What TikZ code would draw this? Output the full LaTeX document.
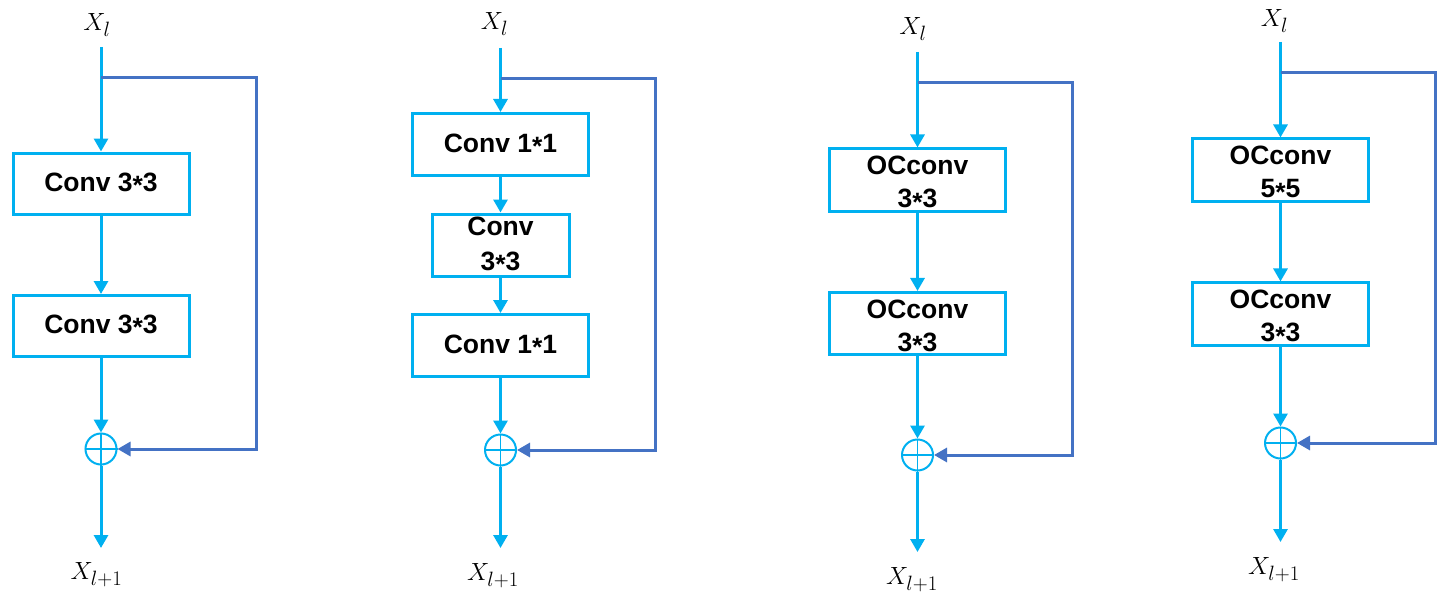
\documentclass[tikz,border=0pt]{standalone}
\usepackage{fontspec}
\setmainfont{Liberation Sans}
\usetikzlibrary{arrows.meta}
\definecolor{lb}{HTML}{00B0F0}
\definecolor{sk}{HTML}{4472C4}
\newcommand{\mystar}{\raisebox{-0.22ex}{*}}
\newcommand{\up}{\rule{0pt}{26pt}}
\begin{document}
\begin{tikzpicture}[x=1pt,y=-1pt,
  box/.style={draw=lb, line width=3pt, minimum width=176pt, minimum height=61pt, inner sep=0pt, align=center, font=\fontsize{26.5}{33}\selectfont\bfseries},
  flow/.style={draw=lb, line width=3pt, -{Triangle[width=14pt,length=13pt]}},
  skipc/.style={draw=sk, line width=3pt, line join=miter, -{Triangle[width=14pt,length=13pt]}},
  sum/.style={circle, draw=lb, line width=2pt, minimum size=31pt, inner sep=0pt},
  plus/.style={draw=lb, line width=1.8pt},
  lab/.style={inner sep=0pt, font=\fontsize{28}{33}\selectfont}]
\useasboundingbox (0,0) rectangle (1447,599);
\fill[white] (0,0) rectangle (1447,599);

% ---------- Panel 1 ----------
\node[lab] (a-in) at (97,25) {$X_{\scriptstyle l}$};
\coordinate (a-top) at (101,47);
\coordinate (a-br) at (101,78);
\node[box] (a1) at (101,183.5) {Conv 3\mystar3};
\node[box] (a2) at (101,326) {Conv 3\mystar3};
\node[sum] (a-s) at (101,449) {};
\coordinate (a-bot) at (101,548);
\node[lab] (a-out) at (96.5,575) {$X_{l+1}$};
\coordinate (a-r1) at (256,78);
\coordinate (a-r2) at (256,449);
\draw[plus] (a-s.north) -- (a-s.south) (a-s.west) -- (a-s.east);
\draw[flow] (a-top) -- (a1.north);
\draw[flow] (a1.south) -- (a2.north);
\draw[flow] (a2.south) -- (a-s.north);
\draw[flow] (a-s.south) -- (a-bot);
\draw[skipc] (a-br) -- (a-r1) -- (a-r2) -- (a-s.east);

% ---------- Panel 2 ----------
\node[lab] (b-in) at (494.5,24) {$X_l$};
\coordinate (b-top) at (500.5,48);
\coordinate (b-br) at (500.5,79);
\node[box, minimum height=62pt] (b1) at (500.5,144.5) {Conv 1\mystar1};
\node[box, minimum width=137pt, minimum height=62pt, font=\fontsize{26.5}{35}\selectfont\bfseries] (b2) at (500.5,245) {Conv\\3\mystar3};
\node[box, minimum height=62pt] (b3) at (500.5,345.5) {Conv 1\mystar1};
\node[sum] (b-s) at (500.5,450) {};
\coordinate (b-bot) at (500.5,548);
\node[lab] (b-out) at (493,575.5) {$X_{l+1}$};
\coordinate (b-r1) at (655,79);
\coordinate (b-r2) at (655,450);
\draw[plus] (b-s.north) -- (b-s.south) (b-s.west) -- (b-s.east);
\draw[flow] (b-top) -- (b1.north);
\draw[flow] (b1.south) -- (b2.north);
\draw[flow] (b2.south) -- (b3.north);
\draw[flow] (b3.south) -- (b-s.north);
\draw[flow] (b-s.south) -- (b-bot);
\draw[skipc] (b-br) -- (b-r1) -- (b-r2) -- (b-s.east);

% ---------- Panel 3 ----------
\node[lab] (c-in) at (913,29) {$X_l$};
\coordinate (c-top) at (917.5,52);
\coordinate (c-br) at (917.5,83);
\node[box] (c1) at (917.5,180) {\up OCconv\\3\mystar3};
\node[box] (c2) at (917.5,323.5) {\up OCconv\\3\mystar3};
\node[sum] (c-s) at (917.5,455) {};
\coordinate (c-bot) at (917.5,552);
\node[lab] (c-out) at (912,580) {$X_{l+1}$};
\coordinate (c-r1) at (1072,83);
\coordinate (c-r2) at (1072,455);
\draw[plus] (c-s.north) -- (c-s.south) (c-s.west) -- (c-s.east);
\draw[flow] (c-top) -- (c1.north);
\draw[flow] (c1.south) -- (c2.north);
\draw[flow] (c2.south) -- (c-s.north);
\draw[flow] (c-s.south) -- (c-bot);
\draw[skipc] (c-br) -- (c-r1) -- (c-r2) -- (c-s.east);

% ---------- Panel 4 ----------
\node[lab] (d-in) at (1274.5,21) {$X_l$};
\coordinate (d-top) at (1280.5,42);
\coordinate (d-br) at (1280.5,73);
\node[box] (d1) at (1280.5,170) {\up OCconv\\5\mystar5};
\node[box] (d2) at (1280.5,314) {\up OCconv\\3\mystar3};
\node[sum] (d-s) at (1280.5,443) {};
\coordinate (d-bot) at (1280.5,542);
\node[lab] (d-out) at (1274,570) {$X_{l+1}$};
\coordinate (d-r1) at (1435,73);
\coordinate (d-r2) at (1435,443);
\draw[plus] (d-s.north) -- (d-s.south) (d-s.west) -- (d-s.east);
\draw[flow] (d-top) -- (d1.north);
\draw[flow] (d1.south) -- (d2.north);
\draw[flow] (d2.south) -- (d-s.north);
\draw[flow] (d-s.south) -- (d-bot);
\draw[skipc] (d-br) -- (d-r1) -- (d-r2) -- (d-s.east);
\end{tikzpicture}
\end{document}
